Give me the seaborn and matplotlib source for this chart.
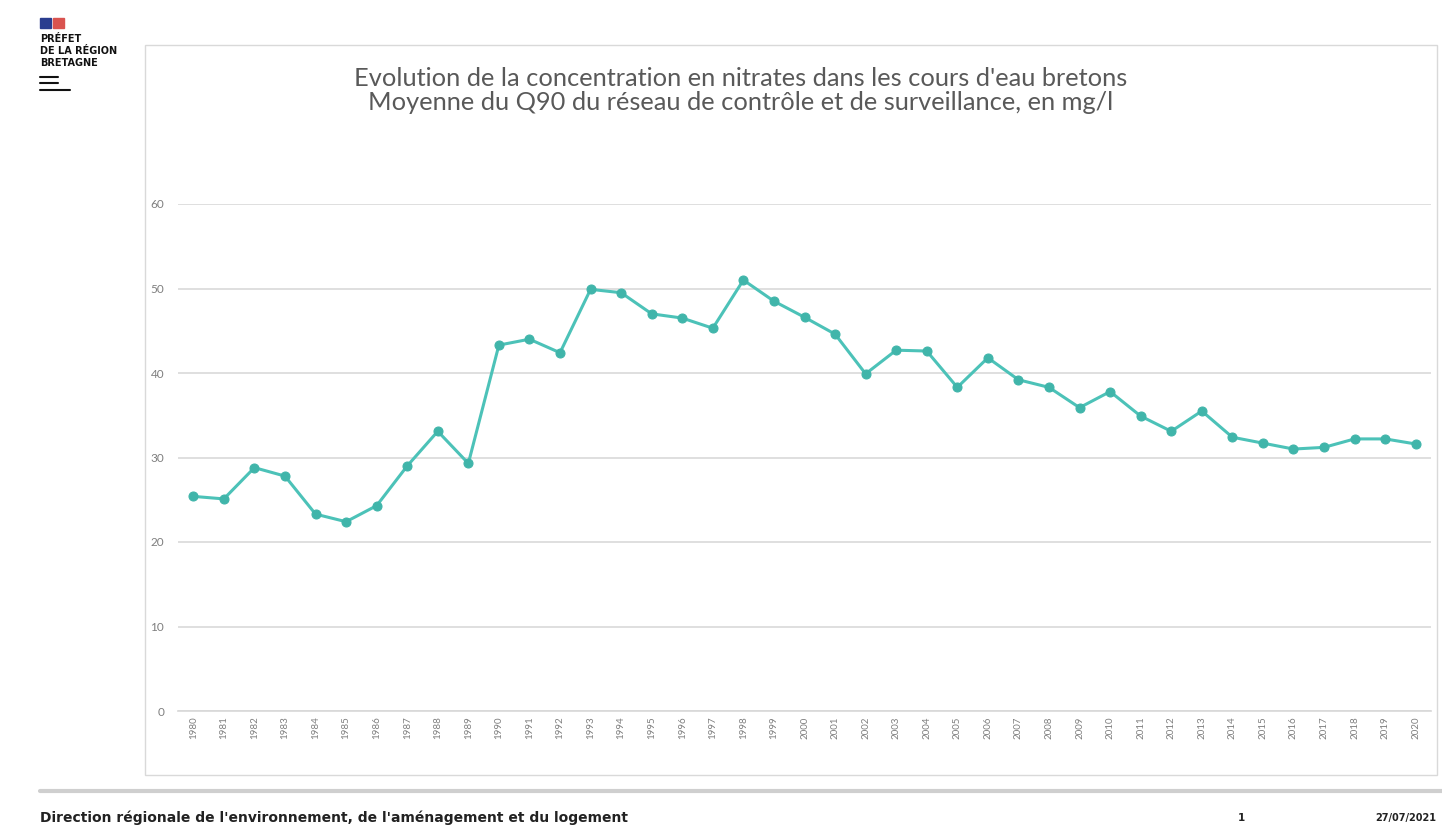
import matplotlib
matplotlib.use("Agg")
import matplotlib.pyplot as plt
import seaborn as sns
import pandas as pd
from matplotlib.patches import Rectangle
from matplotlib.lines import Line2D

years = list(range(1980, 2021))
values = [25.4, 25.1, 28.8, 27.8, 23.3, 22.4, 24.3, 29.0, 33.1, 29.3,
          43.3, 44.0, 42.4, 49.9, 49.5, 47.0, 46.5, 45.3, 51.0, 48.5,
          46.6, 44.6, 39.9, 42.7, 42.6, 38.3, 41.8, 39.2, 38.3, 35.9,
          37.8, 34.9, 33.1, 35.5, 32.4, 31.7, 31.0, 31.2, 32.2, 32.2, 31.6]
yticks = [0, 10, 20, 30, 40, 50, 60]
title_lines = ["Evolution de la concentration en nitrates dans les cours d'eau bretons",
               "Moyenne du Q90 du réseau de contrôle et de surveillance, en mg/l"]
footer_left = "Direction régionale de l'environnement, de l'aménagement et du logement"
footer_page = "1"
footer_date = "27/07/2021"
logo_lines = ["PRÉFET", "DE LA RÉGION", "BRETAGNE"]

sns.set_theme(style="white")
plt.rcParams['font.family'] = ['Lato', 'DejaVu Sans']

W, H = 1442, 839
fig = plt.figure(figsize=(W / 100, H / 100), dpi=100)

def fx(px):
    return px / W

def fy(py):
    return 1 - py / H

# Outer chart frame
fig.patches.append(Rectangle((fx(145), fy(775)), fx(1437) - fx(145), fy(45) - fy(775),
                             transform=fig.transFigure, fill=False,
                             edgecolor="#d9d9d9", linewidth=1.0))

ax = fig.add_axes([fx(178), fy(711), fx(1431) - fx(178), fy(204) - fy(711)])
df = pd.DataFrame({"year": [str(y) for y in years], "value": values})
line_color = "#4cc2b8"
sns.lineplot(data=df, x="year", y="value", ax=ax, color=line_color, linewidth=2.2,
             marker="o", markersize=6.5, markerfacecolor="#40b5aa",
             markeredgecolor="#40b5aa", sort=False)

ax.set_xlim(-0.5, len(years) - 0.5)
ax.set_ylim(0, 60)
ax.set_yticks(yticks)
ax.set_yticklabels([str(t) for t in yticks], fontsize=8.5, color="#7f7f7f")
ax.set_xticks(range(len(years)))
ax.set_xticklabels([str(y) for y in years], rotation=90, fontsize=7, color="#7f7f7f")
ax.grid(axis="y", color="#d9d9d9", linewidth=1.2)
ax.set_axisbelow(True)
for s in ["top", "right", "left"]:
    ax.spines[s].set_visible(False)
ax.spines["bottom"].set_color("#d9d9d9")
ax.tick_params(axis="y", length=6, width=1, color="#d9d9d9", pad=4)
ax.tick_params(axis="x", length=0, pad=4)
ax.set_xlabel("")
ax.set_ylabel("")

# Title
fig.text(fx(741), fy(78), title_lines[0], ha="center", va="center", fontsize=18.3, color="#595959")
fig.text(fx(741), fy(102), title_lines[1], ha="center", va="center", fontsize=18.3, color="#595959")

# Logo
fig.patches.append(Rectangle((fx(40), fy(28)), fx(11), fy(18) - fy(28), transform=fig.transFigure,
                             color="#2a3d8f"))
fig.patches.append(Rectangle((fx(53), fy(28)), fx(11), fy(18) - fy(28), transform=fig.transFigure,
                             color="#d9534f"))
for i, t in enumerate(logo_lines):
    fig.text(fx(40), fy(39 + i * 12), t, fontsize=7, fontweight="bold", color="#111111",
             ha="left", va="center", family=["DejaVu Sans"])
fig.add_artist(Line2D([fx(40), fx(58)], [fy(77), fy(77)], transform=fig.transFigure,
                      color="#111111", linewidth=1.5))
fig.add_artist(Line2D([fx(40), fx(58)], [fy(83), fy(83)], transform=fig.transFigure,
                      color="#111111", linewidth=1.5))
fig.add_artist(Line2D([fx(40), fx(70)], [fy(90), fy(90)], transform=fig.transFigure,
                      color="#111111", linewidth=1.5))

# Footer
fig.add_artist(Line2D([fx(40), fx(1442)], [fy(791), fy(791)], transform=fig.transFigure,
                      color="#cfcfcf", linewidth=3))
fig.text(fx(40), fy(818), footer_left, fontsize=10, fontweight="bold", color="#222222",
         ha="left", va="center", family=["DejaVu Sans"])
fig.text(fx(1241), fy(818), footer_page, fontsize=7.5, fontweight="bold", color="#222222",
         ha="center", va="center", family=["DejaVu Sans"])
fig.text(fx(1436), fy(818), footer_date, fontsize=7, fontweight="bold", color="#222222",
         ha="right", va="center", family=["DejaVu Sans"])

fig.savefig("out.png", dpi=100)
